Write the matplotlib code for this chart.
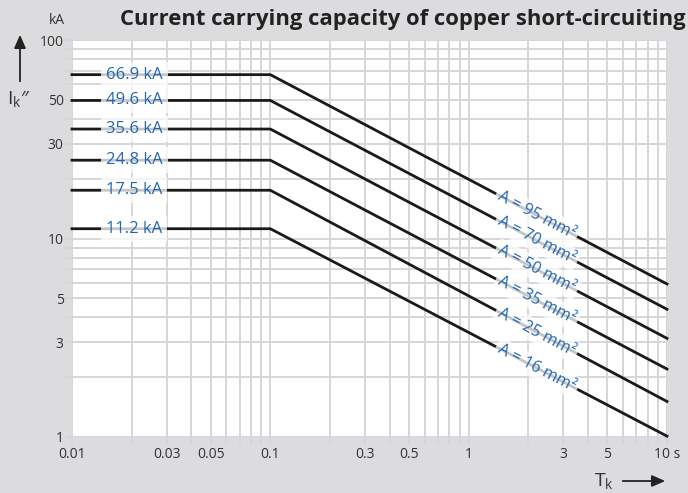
import numpy as np
import matplotlib.pyplot as plt
from matplotlib.ticker import NullFormatter, LogLocator

plt.rcParams['font.family'] = ['Open Sans', 'DejaVu Sans']

# flat value (kA) up to the knee, value read at 10 s
areas = [95, 70, 50, 35, 25, 16]
i_flat = [66.9, 49.6, 35.6, 24.8, 17.5, 11.2]
i_end = [5.9, 4.4, 3.14, 2.2, 1.51, 1.01]
t_start, t_knee, t_end = 0.01, 0.1, 10

x_ticks = [0.01, 0.03, 0.05, 0.1, 0.3, 0.5, 1, 3, 5, 10]
x_labels = ['0.01', '0.03', '0.05', '0.1', '0.3', '0.5', '1', '3', '5', '10 s']
y_ticks = [1, 3, 5, 10, 30, 50, 100]
y_labels = ['1', '3', '5', '10', '30', '50', '100']

bg = '#dcdcde'
grid_c = '#d6d6d8'
blue = '#2166b0'
txt = '#333333'

fig = plt.figure(figsize=(6.88, 4.93), dpi=100, facecolor=bg)
ax = fig.add_axes([72/688, 1-437/493, 595/688, 397/493])
ax.set_facecolor('white')
ax.set_xscale('log')
ax.set_yscale('log')
ax.set_xlim(t_start, t_end)
ax.set_ylim(1, 100)
for s in ax.spines.values():
    s.set_visible(False)

ax.xaxis.set_minor_locator(LogLocator(subs=np.arange(2, 10)))
ax.yaxis.set_minor_locator(LogLocator(subs=np.arange(2, 10)))
ax.grid(True, which='both', color=grid_c, lw=1.4, zorder=0)
ax.tick_params(which='both', length=5, width=1.4, color=grid_c, labelsize=10, labelcolor=txt)
ax.tick_params(axis='x', pad=2)
ax.tick_params(axis='y', pad=1)
ax.xaxis.set_minor_formatter(NullFormatter())
ax.yaxis.set_minor_formatter(NullFormatter())
ax.set_xticks(x_ticks, x_labels)
ax.set_yticks(y_ticks, y_labels)
ax.set_axisbelow(True)

for a, f, e in zip(areas, i_flat, i_end):
    ax.plot([t_start, t_knee, t_end], [f, f, e], color='#1a1a1a', lw=2.0, zorder=3, clip_on=False)
    ax.text(0.0206, f, f'{f} kA', color=blue, fontsize=12, ha='center', va='center', zorder=4,
            bbox=dict(boxstyle='square,pad=0.3', fc='white', ec='none', alpha=0.75))
    p1 = ax.transData.transform((t_knee, f))
    p2 = ax.transData.transform((t_end, e))
    ang = np.degrees(np.arctan2(p2[1]-p1[1], p2[0]-p1[0]))
    xl = 2.2
    frac = np.log10(xl/t_knee) / np.log10(t_end/t_knee)
    yl = 10**(np.log10(f) + frac*(np.log10(e) - np.log10(f)))
    ax.text(xl, yl, f'A = {a} mm²', color=blue, fontsize=11.5, ha='center', va='center',
            rotation=ang, rotation_mode='anchor', zorder=4,
            bbox=dict(boxstyle='square,pad=0.2', fc='white', ec='none', alpha=0.75))

fig.text(120/688, 1-19/493, 'Current carrying capacity of copper short-circuiting',
         fontsize=15.8, fontweight='bold', color='#222222', ha='left', va='center')
fig.text(57/688, 1-20/493, 'kA', fontsize=10, color=txt, ha='center', va='center')
fig.text(19/688, 1-100/493, r'I$_\mathregular{k}$″', fontsize=14, color=txt, ha='center', va='center')
fig.text(604/688, 1-482/493, r'T$_\mathregular{k}$', fontsize=14, color=txt, ha='center', va='center')
arrow = dict(arrowstyle='-|>,head_length=0.8,head_width=0.35', color='#222222', lw=1.3)
ax.annotate('', xy=(20/688, 1-32/493), xytext=(20/688, 1-84/493), xycoords='figure fraction',
            arrowprops=arrow, annotation_clip=False)
ax.annotate('', xy=(668/688, 1-481/493), xytext=(620/688, 1-481/493), xycoords='figure fraction',
            arrowprops=arrow, annotation_clip=False)

fig.savefig('out.png', dpi=100, facecolor=bg)
